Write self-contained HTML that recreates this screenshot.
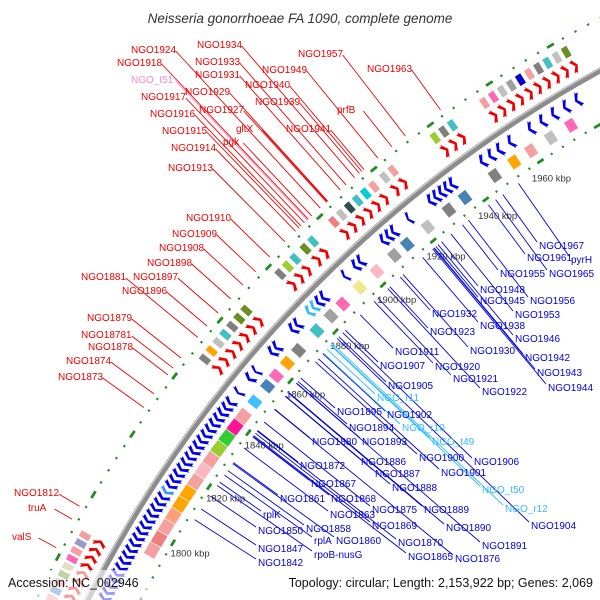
<!DOCTYPE html>
<html><head><meta charset="utf-8"><style>
html,body{margin:0;padding:0;background:#fff;width:600px;height:600px;overflow:hidden}
svg{display:block;font-family:"Liberation Sans",sans-serif;overflow:hidden}
</style></head><body>
<svg id="map" width="600" height="600" viewBox="0 0 600 600">
<text x="300" y="23" text-anchor="middle" font-size="13.5" font-style="italic" fill="#333">Neisseria gonorrhoeae FA 1090, complete genome</text>
<g id="rings"></g><g id="feat"></g><g id="lines"></g><g id="labels"></g>
<rect x="0" y="570" width="150" height="30" fill="#fff" fill-opacity="0.6"/>
<text x="8" y="587" font-size="12.5" fill="#111">Accession: NC_002946</text>
<text x="593" y="587" text-anchor="end" font-size="12.5" fill="#111">Topology: circular; Length: 2,153,922 bp; Genes: 2,069</text>
</svg>
<script>
// ---- data (kbp) ----
const rulerTicks=[1800,1820,1840,1860,1880,1900,1920,1940,1960];
const fwdStarts=[1768,1770.5,1773,1775.5,1778,1780.5,1783,1785.5,1788,1848,1851,1854,1857,1860,1863,1866,1880,1883,1886,1890,1893,1901,1904,1907,1910,1913,1916,1920,1923,1938,1941,1944,1955,1958,1961,1964,1967,1970,1973,1976,1979,1982];
const fwdLens=[2,2,2,2,2,2,2,2,2,2,2,2,2,2,2,2,2,2,2,2,2,2,2,2,2,2,2,2,2,2,2,2,2,2,2,2,2,2,2,2,2,2];
const fwdCogColors=["#f4a0a0","#4682b4","#f08080","#6b8e23","#e0e0c0","#ff69b4","#f4a0a0","#9999cc","#f0a0a0","#808080","#ffa500","#c0c0c0","#40c0c0","#808080","#6b8e23","#6b8e23","#808080","#9acd32","#40c0c0","#6b8e23","#40c0c0","#f08080","#c0c0c0","#2f4f4f","#40c0c0","#00ced1","#f4a0a0","#c0c0c0","#f4a0a0","#9acd32","#808080","#40c0c0","#f4a0a0","#ff69b4","#c0c0c0","#a0a0a0","#0000cd","#f4a0a0","#808080","#40c0c0","#c0c0c0","#6b8e23"];
const revStarts=[1775,1777,1779,1781,1783,1785,1787,1789,1791,1793,1795,1797,1799,1801,1803,1805,1807,1809,1811,1813,1815,1817,1819,1821,1823,1825,1827,1829,1831,1833,1835,1837,1839,1841,1843,1847,1852,1855,1862,1864,1871,1873,1878,1880,1882,1884,1893,1897,1899,1908,1910,1912,1918,1926,1928,1930,1932,1934,1945,1948,1951,1955,1962,1966,1970,1974,1978];
const revLens=[2,2,2,2,2,2,2,2,2,2,2,2,2,2,2,2,2,2,2,2,2,2,2,2,2,2,2,2,2,2,2,2,2,2,2,1.5,2,1.5,2,2,2,2,2,2,2,2,1.5,2,2,2,2,2,1.5,2,2,2,2,2,2,2,2,2,2,2,2,2,2];
const revArrowColors=["#0000ee","#0000ee","#0000ee","#0000ee","#0000ee","#0000ee","#0000ee","#0000ee","#0000ee","#0000ee","#0000ee","#0000ee","#0000ee","#0000ee","#0000ee","#0000ee","#0000ee","#0000ee","#3399ff","#0000ee","#0000ee","#0000ee","#0000ee","#0000ee","#0000ee","#0000ee","#0000ee","#0000ee","#0000ee","#0000ee","#0000ee","#0000ee","#0000ee","#0000ee","#0000ee","#0000ee","#0000ee","#0000ee","#0000ee","#0000ee","#0000ee","#0000ee","#33bbff","#33bbff","#0000ee","#0000ee","#0000ee","#0000ee","#0000ee","#0000ee","#0000ee","#0000ee","#0000ee","#0000ee","#0000ee","#0000ee","#0000ee","#0000ee","#0000ee","#0000ee","#0000ee","#0000ee","#0000ee","#0000ee","#0000ee","#0000ee","#0000ee"];
const revCogStarts=[1793,1797,1801,1805,1809,1813,1817,1821,1825,1829,1833,1837,1841,1847,1853,1857,1862,1867,1875,1881,1886,1893,1900,1907,1912,1920,1928,1934,1945,1952,1958,1965,1972];
const revCogLens=[4,4,4,4,4,4,4,4,4,4,4,4,4,3,3,3,3,3,3,3,3,3,3,3,3,3,3,3,3,3,3,3,3];
const revCogColors=["#f4a0a0","#f08080","#f4a0a0","#ffa07a","#ffa500","#ffa500","#f4a0a0","#ffb6c1","#f4a0a0","#9acd32","#32cd32","#ff1493","#f4a0a0","#40c0ff","#4682b4","#ff69b4","#ffa500","#808080","#40c0c0","#a0a0a0","#ff69b4","#f0e68c","#ffb6c1","#a0a0a0","#4682b4","#c0c0c0","#808080","#4682b4","#808080","#ffa500","#f4a0a0","#c0c0c0","#ff69b4"];
const redNames=["NGO1924","NGO1934","NGO1918","NGO1933","NGO_t51","NGO1931","NGO1949","NGO1957","NGO1963","NGO1940","NGO1929","NGO1917","NGO1939","prfB","NGO1927","NGO1916","gltX","NGO1941","NGO1915","pgk","NGO1914","NGO1913","NGO1910","NGO1909","NGO1908","NGO1898","NGO1881","NGO1897","NGO1896","NGO1879","NGO18781","NGO1878","NGO1874","NGO1873","NGO1812","truA","valS"];
const redX=[131,197,117,195,131,195,262,298,367,245,185,141,255,337,199,150,236,286,162,223,171,168,186,172,159,147,81,133,122,87,81,88,66,58,14,28,12];
const redY=[49,44,62,61,79,74,69,53,68,84,91,96,101,109,109,113,128,128,130,141,147,167,217,233,247,262,276,276,290,317,334,346,360,376,492,507,536];
const blueNames=["NGO1967","pyrH","NGO1961","NGO1955","NGO1965","NGO1948","NGO1945","NGO1956","NGO1953","NGO1932","NGO1938","NGO1946","NGO1923","NGO1930","NGO1942","NGO1911","NGO1920","NGO1907","NGO1943","NGO1921","NGO1905","NGO1944","NGO1922","NGO_r11","NGO1895","NGO1902","NGO1894","NGO_r10","NGO1880","NGO1893","NGO_t49","NGO1900","NGO1906","NGO1886","NGO1872","NGO1887","NGO1901","NGO1867","NGO1888","NGO_t50","NGO1861","NGO1868","NGO1875","NGO1889","NGO_r12","rplK","NGO1863","NGO1869","NGO1890","NGO1904","NGO1850","NGO1858","rplA","NGO1860","NGO1870","NGO1891","NGO1847","rpoB-nusG","NGO1865","NGO1876","NGO1842"];
const blueX=[539,571,527,500,549,480,480,530,515,432,480,515,430,470,525,395,435,380,537,453,388,548,482,377,337,387,349,402,312,362,432,419,474,361,300,375,441,311,392,482,280,331,372,424,505,263,330,372,446,531,258,306,314,336,398,482,258,314,408,455,258];
const blueY=[245,259,257,273,273,289,300,300,314,313,325,338,331,350,357,351,366,365,372,378,385,387,391,397,411,414,427,427,441,441,441,457,461,461,465,473,472,483,487,489,498,498,509,509,508,514,514,525,527,525,530,528,540,540,542,545,548,554,556,558,562];

// ---- geometry ----
const CX=1202,CY=1166;
function ang(k){return (211.2+(k-1800)*0.159)*Math.PI/180;}
function pt(k,r){const a=ang(k);return [CX+r*Math.cos(a),CY+r*Math.sin(a)];}
const NS="http://www.w3.org/2000/svg";
function mk(tag,parent){const e=document.createElementNS(NS,tag);document.getElementById(parent).appendChild(e);return e;}
function P(a){return a.map(p=>p[0].toFixed(1)+","+p[1].toFixed(1)).join(" ");}

let c=mk("circle","rings");c.setAttribute("cx",CX);c.setAttribute("cy",CY);c.setAttribute("r",1250);c.setAttribute("fill","none");c.setAttribute("stroke","#8c8c8c");c.setAttribute("stroke-width",6);


c=mk("circle","rings");c.setAttribute("cx",CX);c.setAttribute("cy",CY);c.setAttribute("r",1252);c.setAttribute("fill","none");c.setAttribute("stroke","#d0d0d0");c.setAttribute("stroke-width",1.2);



[1296,1203].forEach(function(r){
  for(let k=1740;k<=2000;k+=4){
    const major=(k%20===0);
    const a=pt(k-(major?1.1:0.3),r),b=pt(k+(major?1.1:0.3),r);
    const l=mk("line","rings");
    l.setAttribute("x1",a[0]);l.setAttribute("y1",a[1]);l.setAttribute("x2",b[0]);l.setAttribute("y2",b[1]);
    l.setAttribute("stroke","#228b22");l.setAttribute("stroke-width",major?2.8:2.2);
    
    
  }
});
rulerTicks.forEach(function(k){
  const p=pt(k,1183);
  const t=mk("text","rings");t.setAttribute("x",p[0]);t.setAttribute("y",p[1]+3.5);t.setAttribute("text-anchor","middle");t.setAttribute("font-size","9.5");t.setAttribute("fill","#333");
  t.textContent=k+" kbp";
  
  
});

fwdStarts.forEach(function(s,i){
  const e=s+fwdLens[i],h=Math.min(1.2,fwdLens[i]*0.6);
  const ri=1260,ro=1272;
  const poly=mk("polygon","feat");
  poly.setAttribute("points",P([pt(s,ri),pt(e-h,ri),pt(e-h,ri-2),pt(e,1266),pt(e-h,ro+2),pt(e-h,ro),pt(s,ro),pt(s+h,1266)]));
  poly.setAttribute("fill","#ee0000");
  
  
  const b=mk("polygon","feat");
  b.setAttribute("points",P([pt(s,1277),pt(e-0.2,1277),pt(e-0.2,1288),pt(s,1288)]));
  b.setAttribute("fill",fwdCogColors[i]);
  
  
});
revStarts.forEach(function(s,i){
  const e=s+revLens[i],h=Math.min(1.2,revLens[i]*0.6);
  const ri=1229,ro=1242;
  const poly=mk("polygon","feat");
  poly.setAttribute("points",P([pt(e,ri),pt(s+h,ri),pt(s+h,ri-2),pt(s,1235.5),pt(s+h,ro+2),pt(s+h,ro),pt(e,ro),pt(e-h,1235.5)]));
  poly.setAttribute("fill",revArrowColors[i]);
  
  
});
revCogStarts.forEach(function(s,i){
  const e=s+revCogLens[i];
  const b=mk("polygon","feat");
  b.setAttribute("points",P([pt(s,1211),pt(e-0.2,1211),pt(e-0.2,1223),pt(s,1223)]));
  b.setAttribute("fill",revCogColors[i]);
  
  
});

function radialTo(x,y,r){const dx=x-CX,dy=y-CY,d=Math.hypot(dx,dy);return [CX+dx/d*r,CY+dy/d*r];}
redNames.forEach(function(n,i){
  const w=n.length*6.1;
  const x=redX[i],y=redY[i];
  const col=n.indexOf("_t")>0?"#ff88cc":"#ee0000";
  const t=mk("text","labels");t.setAttribute("x",x);t.setAttribute("y",y+4);t.setAttribute("font-size","10");
  t.setAttribute("fill",col);t.textContent=n;
  
  
  const sx=x+w+2,sy=y+2,p=radialTo(sx,sy,1302);
  const l=mk("line","lines");l.setAttribute("x1",sx);l.setAttribute("y1",sy);l.setAttribute("x2",p[0]);l.setAttribute("y2",p[1]);
  l.setAttribute("stroke",col);l.setAttribute("stroke-width",0.9);
  
  
});
blueNames.forEach(function(n,i){
  const x=blueX[i],y=blueY[i];
  const col=n.indexOf("_")>0?"#33bbff":"#0000dd";
  const t=mk("text","labels");t.setAttribute("x",x);t.setAttribute("y",y+4);t.setAttribute("font-size","10");
  t.setAttribute("fill",col);t.textContent=n;
  
  
  const sx=x-2,sy=y-3,p=radialTo(sx,sy,1197);
  const l=mk("line","lines");l.setAttribute("x1",sx);l.setAttribute("y1",sy);l.setAttribute("x2",p[0]);l.setAttribute("y2",p[1]);
  l.setAttribute("stroke",col);l.setAttribute("stroke-width",0.9);
  
  
});
</script>
</body></html>
